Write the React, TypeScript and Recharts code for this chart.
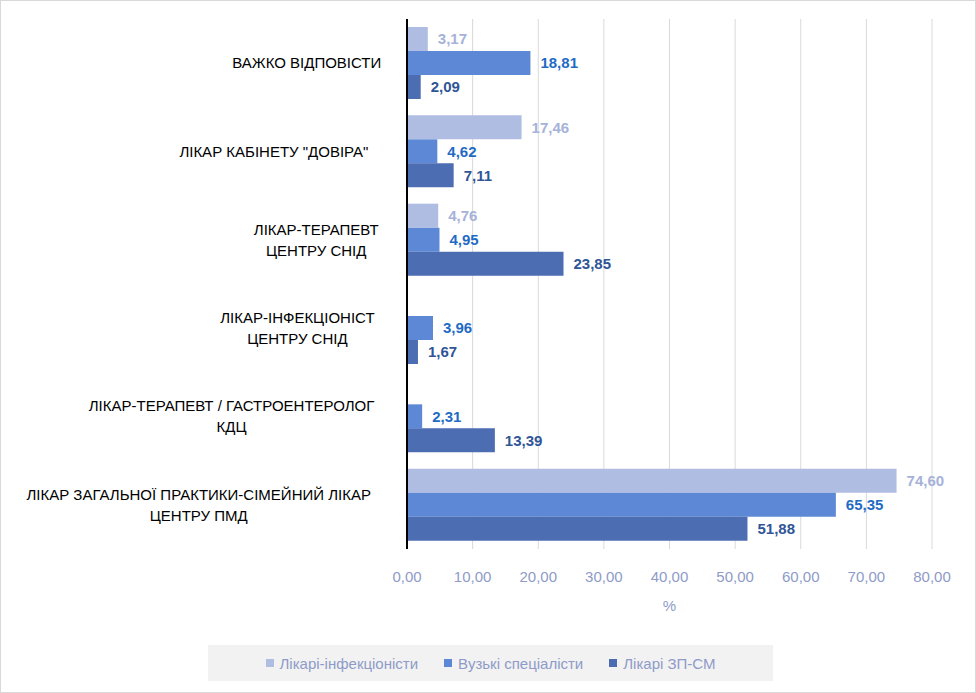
import { BarChart, Bar, XAxis, YAxis, CartesianGrid } from "recharts";

const categories = [
  "ВАЖКО ВІДПОВІСТИ",
  "ЛІКАР КАБІНЕТУ \"ДОВІРА\"",
  "ЛІКАР-ТЕРАПЕВТ\nЦЕНТРУ СНІД",
  "ЛІКАР-ІНФЕКЦІОНІСТ\nЦЕНТРУ СНІД",
  "ЛІКАР-ТЕРАПЕВТ / ГАСТРОЕНТЕРОЛОГ\nКДЦ",
  "ЛІКАР ЗАГАЛЬНОЇ ПРАКТИКИ-СІМЕЙНИЙ ЛІКАР\nЦЕНТРУ ПМД",
];
const infectionists = [3.17, 17.46, 4.76, 0, 0, 74.6];
const specialists = [18.81, 4.62, 4.95, 3.96, 2.31, 65.35];
const familyDoctors = [2.09, 7.11, 23.85, 1.67, 13.39, 51.88];
const xTicks = [0, 10, 20, 30, 40, 50, 60, 70, 80];

const data = categories.map((name, i) => ({
  name,
  a: infectionists[i],
  b: specialists[i],
  c: familyDoctors[i],
}));

const series = [
  { key: "a", name: "Лікарі-інфекціоністи", fill: "#b0bde3", label: "#a6b2d9" },
  { key: "b", name: "Вузькі спеціалісти", fill: "#5d88d5", label: "#1f6bc4" },
  { key: "c", name: "Лікарі ЗП-СМ", fill: "#4d6db3", label: "#2f5597" },
];

const fmt = (v: any) => Number(v).toFixed(2).replace(".", ",");
const font = "Liberation Sans, Arial, sans-serif";

function CatTick({ x, y, payload }: any) {
  const lines = String(payload.value).split("\n");
  const lh = 21;
  const maxLen = Math.max(...lines.map((l) => l.length));
  const cx = x - 17 - (maxLen * 9.4) / 2;
  const y0 = y - ((lines.length - 1) * lh) / 2;
  return (
    <text x={cx} y={y0} textAnchor="middle" fontSize={15} fill="#000" fontFamily={font}>
      {lines.map((l, i) => (
        <tspan key={i} x={cx} y={y0 + i * lh} dy="0.35em">{l}</tspan>
      ))}
    </text>
  );
}

const makeLabel = (color: string) => (p: any) => {
  const { x, y, width, height, value } = p;
  return (
    <text x={x + (width || 0) + 10} y={y + height / 2} dy="0.35em" fill={color} fontSize={15} fontWeight="bold" fontFamily={font}>
      {fmt(value)}
    </text>
  );
};

export default function App() {
  return (
    <div style={{ position: "absolute", left: 0, top: 0, width: 974, height: 691, border: "1px solid #d9d9d9", background: "#fff", fontFamily: font }}>
      <BarChart
        width={974}
        height={691}
        layout="vertical"
        data={data}
        margin={{ top: 18, right: 43, left: 0, bottom: 73 }}
        barSize={24}
        barGap={0}
        barCategoryGap={12}
      >
        <CartesianGrid horizontal={false} stroke="#d9d9d9" />
        <XAxis
          type="number"
          domain={[0, 80]}
          ticks={xTicks}
          tickFormatter={fmt}
          axisLine={false}
          tickLine={false}
          tick={{ fontSize: 15, fill: "#8e9bc8", fontFamily: font }}
          tickMargin={16}
          height={70}
          label={{ value: "%", position: "insideBottom", offset: 8, fontSize: 15, fill: "#8e9bc8" }}
        />
        <YAxis
          type="category"
          dataKey="name"
          width={406}
          tick={<CatTick />}
          tickLine={false}
          axisLine={{ stroke: "#000", strokeWidth: 2 }}
        />
        {series.map((s) => (
          <Bar key={s.key} dataKey={s.key} name={s.name} fill={s.fill} isAnimationActive={false} label={makeLabel(s.label)} />
        ))}
      </BarChart>
      <div style={{ position: "absolute", left: 207, top: 644, width: 565, height: 36, background: "#f2f2f2", display: "flex", alignItems: "center", justifyContent: "center", gap: 26, fontSize: 15, color: "#8e9bc8" }}>
        {series.map((s) => (
          <span key={s.key} style={{ display: "flex", alignItems: "center", gap: 6 }}>
            <span style={{ width: 8, height: 8, background: s.fill, display: "inline-block" }} />
            {s.name}
          </span>
        ))}
      </div>
    </div>
  );
}
